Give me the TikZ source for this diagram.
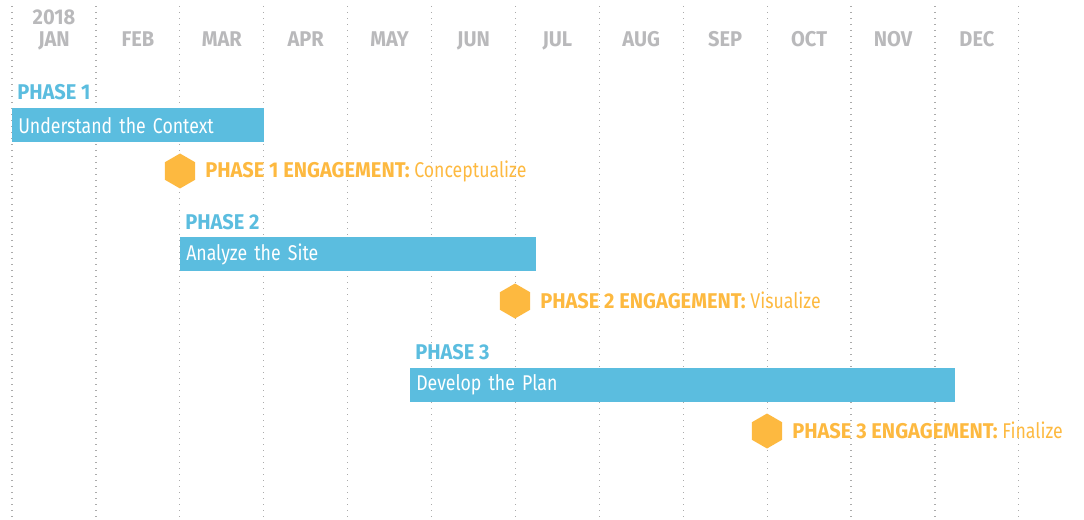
\documentclass[tikz,border=0pt]{standalone}
\usepackage{fontspec}
\setmainfont{Fira Sans}[FakeStretch=0.83, BoldFeatures={FakeStretch=0.94}]
\usetikzlibrary{shapes.geometric}
\definecolor{barblue}{HTML}{5BBDDF}
\definecolor{engorange}{HTML}{FDB940}
\definecolor{monthgray}{HTML}{B9B9BB}
\definecolor{dotgray}{HTML}{ABABAB}
\begin{document}
\begin{tikzpicture}[x=0.75pt,y=-0.75pt,
  gridline/.style={draw=dotgray, line width=0.9pt, dash pattern=on 0.9pt off 3.6pt},
  monthlbl/.style={text=monthgray, font=\fontsize{16}{19}\selectfont\bfseries, anchor=base, inner sep=0},
  phaselbl/.style={text=barblue, font=\fontsize{16}{19}\selectfont\bfseries, anchor=base west, inner sep=0},
  bar/.style={fill=barblue, text=white, font=\fontsize{16}{19}\selectfont, anchor=north west, inner xsep=4.5pt, inner ysep=0pt, minimum height=25.5pt, align=left},
  hexa/.style={regular polygon, regular polygon sides=6, shape border rotate=30, fill=engorange, minimum size=26.25pt, inner sep=0pt},
  englbl/.style={text=engorange, font=\fontsize{16}{19}\selectfont, anchor=base west, inner sep=0}
]
\useasboundingbox (0,0) rectangle (1084,520);
% grid lines
\foreach \i in {0,...,12} {
  \coordinate (gt\i) at (12+83.9*\i,6);
  \coordinate (gb\i) at (12+83.9*\i,520);
  \draw[gridline] (gt\i) -- (gb\i);
}
% year and months
\node[monthlbl] (year) at (54,25) {2018};
\foreach \m [count=\i from 0] in {JAN,FEB,MAR,APR,MAY,JUN,JUL,AUG,SEP,OCT,NOV,DEC} {
  \node[monthlbl] (m\i) at (54+83.9*\i,47) {\m};
}
% phase 1
\node[phaselbl] (p1) at (17,100) {PHASE 1};
\node[bar, text width=180pt] (b1) at (12,108) {Understand the Context};
\node[hexa] (h1) at (180,171) {};
\node[englbl] (e1) at (205,178) {\textbf{PHASE 1 ENGAGEMENT:} Conceptualize};
% phase 2
\node[phaselbl] (p2) at (185,229) {PHASE 2};
\node[bar, text width=258pt] (b2) at (180,237) {Analyze the Site};
\node[hexa] (h2) at (515,301) {};
\node[englbl] (e2) at (540,308) {\textbf{PHASE 2 ENGAGEMENT:} Visualize};
% phase 3
\node[phaselbl] (p3) at (415,359) {PHASE 3};
\node[bar, text width=399.75pt] (b3) at (410,368) {Develop the Plan};
\node[hexa] (h3) at (767,431) {};
\node[englbl] (e3) at (792,438) {\textbf{PHASE 3 ENGAGEMENT:} Finalize};
\end{tikzpicture}
\end{document}
